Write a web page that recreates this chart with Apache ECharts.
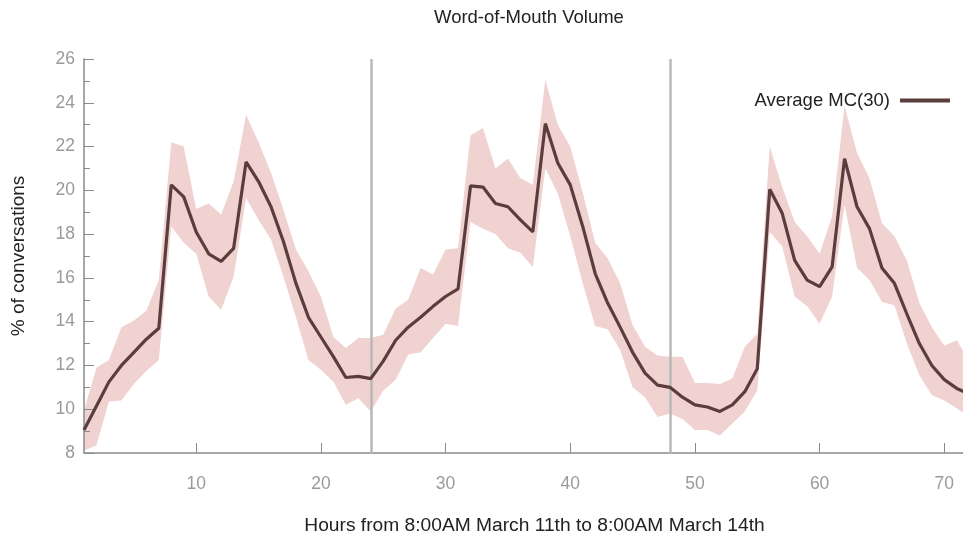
<!DOCTYPE html>
<html>
<head>
<meta charset="utf-8">
<script src="https://cdn.jsdelivr.net/npm/echarts@6/dist/echarts.min.js"></script>
<style>html,body{margin:0;padding:0;background:#fff}#c{width:963px;height:540px}</style>
</head>
<body>
<div id="c"></div>
<script>
const hours = [1,2,3,4,5,6,7,8,9,10,11,12,13,14,15,16,17,18,19,20,21,22,23,24,25,26,27,28,29,30,31,32,33,34,35,36,37,38,39,40,41,42,43,44,45,46,47,48,49,50,51,52,53,54,55,56,57,58,59,60,61,62,63,64,65,66,67,68,69,70,71,72];
const average = [9.05,10.15,11.25,12.0,12.6,13.2,13.7,20.25,19.7,18.1,17.1,16.75,17.35,21.3,20.4,19.25,17.65,15.75,14.2,13.3,12.4,11.45,11.5,11.4,
  12.2,13.15,13.75,14.2,14.7,15.15,15.5,20.2,20.15,19.4,19.25,18.65,18.1,23.05,21.25,20.25,18.35,16.2,14.85,13.75,12.6,11.65,11.1,11.0,
  10.55,10.2,10.1,9.9,10.2,10.8,11.85,20.05,18.95,16.8,15.9,15.6,16.5,21.45,19.25,18.25,16.45,15.75,14.35,13.0,12.0,11.35,10.95,10.7];
const upper = [9.95,11.9,12.25,13.75,14.05,14.5,15.9,22.2,22.0,19.15,19.4,18.9,20.4,23.45,22.2,20.8,19.1,17.3,16.3,15.15,13.3,12.8,13.25,13.25,
  13.4,14.6,15.0,16.45,16.15,17.3,17.35,22.5,22.85,21.0,21.45,20.55,20.25,25.05,23.0,22.0,19.9,17.6,16.9,15.75,13.85,12.85,12.45,12.4,
  12.4,11.2,11.2,11.15,11.4,12.85,13.45,22.0,20.15,18.55,17.9,17.1,18.8,23.85,21.7,20.55,18.5,17.9,16.8,14.85,13.75,12.9,13.15,12.2];
const lower = [8.1,8.35,10.35,10.4,11.15,11.75,12.25,18.35,17.6,17.1,15.15,14.55,16.05,19.65,18.65,17.75,16.05,14.2,12.25,11.8,11.25,10.2,10.5,9.9,
  10.85,11.35,12.5,12.6,13.25,13.9,13.8,18.55,18.25,18.0,17.35,17.15,16.5,21.0,19.85,17.9,15.75,13.8,13.65,12.7,11.0,10.55,9.65,9.8,
  9.55,9.05,9.05,8.8,9.35,9.9,10.85,18.1,17.45,15.15,14.7,13.9,15.15,19.35,16.45,15.9,14.9,14.75,13.0,11.55,10.65,10.4,10.05,9.65];
const xTickValues = [10,20,30,40,50,60,70];
const dayBoundaries = [24,48];
const seriesName = 'Average MC(30)';
const titleText = 'Word-of-Mouth Volume';
const xTitle = 'Hours from 8:00AM March 11th to 8:00AM March 14th';
const yTitle = '% of conversations';

const bandData = hours.map((h,i)=>[h, lower[i], upper[i]]);
const avgData = hours.map((h,i)=>[h, average[i]]);

const chart = echarts.init(document.getElementById('c'), null, {renderer:'canvas'});
const axisGray = '#8a8a8a';
const font = "'Liberation Sans',Arial,sans-serif";
chart.setOption({
  animation:false,
  backgroundColor:'#fff',
  title:{text:titleText, left:429, top:3, textStyle:{fontFamily:font, fontSize:18.5, fontWeight:'normal', color:'#222'}},
  legend:{data:[seriesName], right:8, top:86, align:'right', icon:'rect', itemWidth:50, itemHeight:4,
    textStyle:{fontFamily:font, fontSize:18.5, color:'#222', padding:[0,5,0,0]}},
  grid:{left:84, right:0, top:59, bottom:87, containLabel:false, outerBoundsMode:'none'},
  xAxis:{type:'value', min:1, max:71.5,
    name:xTitle, nameLocation:'middle', nameGap:63,
    nameTextStyle:{fontFamily:font, fontSize:19.2, color:'#222', padding:[0,0,0,22]},
    axisLine:{show:true, lineStyle:{color:axisGray, width:1.5}},
    axisTick:{show:true, inside:true, length:10, customValues:xTickValues, lineStyle:{color:axisGray}},
    axisLabel:{customValues:xTickValues, margin:22, fontFamily:font, fontSize:17.5, color:'#9a9a9a'},
    splitLine:{show:false}},
  yAxis:{type:'value', min:8, max:26, interval:2,
    name:yTitle, nameLocation:'middle', nameGap:56, nameRotate:90,
    nameTextStyle:{fontFamily:font, fontSize:19, color:'#222'},
    axisLine:{show:true, lineStyle:{color:axisGray, width:1.5}},
    axisTick:{show:true, inside:true, length:10, lineStyle:{color:axisGray}},
    minorTick:{show:true, splitNumber:2, length:6, lineStyle:{color:axisGray}},
    axisLabel:{margin:9, fontFamily:font, fontSize:17.5, color:'#9a9a9a'},
    splitLine:{show:false}},
  series:[
    {name:'band', type:'custom', data:bandData, silent:true, clip:true, z:0,
      encode:{x:0, y:[1,2]},
      renderItem:function(params, api){
        if (params.dataIndex !== 0) return null;
        const top = bandData.map(d=>api.coord([d[0], d[2]]));
        const bot = bandData.map(d=>api.coord([d[0], d[1]])).reverse();
        return {type:'polygon', shape:{points:top.concat(bot)}, style:{fill:'#f0d2d0'}};
      }},
    {name:'bounds', type:'line', data:[], symbol:'none', silent:true, z:1,
      markLine:{silent:true, symbol:'none', label:{show:false},
        lineStyle:{color:'#b8b8b8', width:2.5, type:'solid'},
        data:dayBoundaries.map(v=>({xAxis:v}))}},
    {name:seriesName, type:'line', data:avgData, symbol:'none', z:5,
      lineStyle:{color:'#5b3d3d', width:3.2}, itemStyle:{color:'#5b3d3d'}}
  ]
});
</script>
</body>
</html>
